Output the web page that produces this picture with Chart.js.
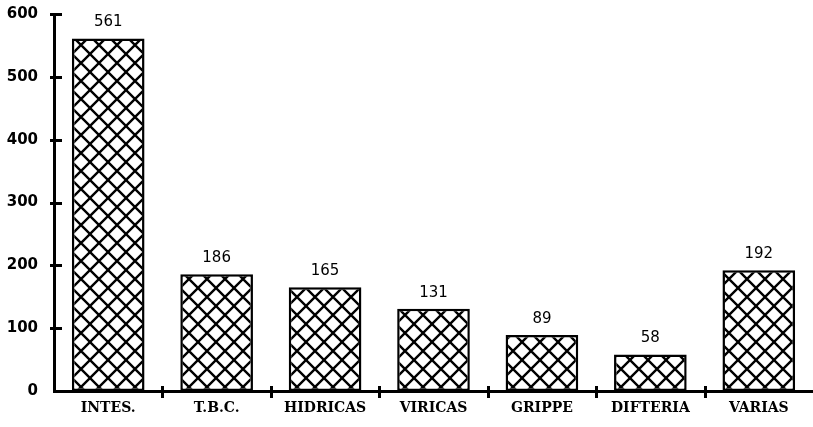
<!DOCTYPE html>
<html>
<head>
<meta charset="utf-8">
<script src="https://cdn.jsdelivr.net/npm/chart.js@4/dist/chart.umd.min.js"></script>
<style>
html,body{margin:0;padding:0;background:#fff;}
canvas{display:block;}
</style>
</head>
<body>
<canvas id="c" width="813" height="427"></canvas>
<script>
const categories = ['INTES.', 'T.B.C.', 'HIDRICAS', 'VIRICAS', 'GRIPPE', 'DIFTERIA', 'VARIAS'];
const values = [561, 186, 165, 131, 89, 58, 192];
const yMin = 0, yMax = 600, yStep = 100;

function makeHatch() {
  const s = 18;
  const p = document.createElement('canvas');
  p.width = s; p.height = s;
  const g = p.getContext('2d');
  g.fillStyle = '#fff';
  g.fillRect(0, 0, s, s);
  g.strokeStyle = '#000';
  g.lineWidth = 2.4;
  g.lineCap = 'square';
  g.beginPath();
  g.moveTo(-2, -2); g.lineTo(s + 2, s + 2);
  g.moveTo(-2, s + 2); g.lineTo(s + 2, -2);
  g.stroke();
  return document.getElementById('c').getContext('2d').createPattern(p, 'repeat');
}

const axisTicks = {
  id: 'axisTicks',
  afterDraw(chart) {
    const ctx = chart.ctx;
    const ys = chart.scales.y, xs = chart.scales.x;
    const ax = chart.chartArea.left, ay = chart.chartArea.bottom;
    ctx.save();
    ctx.fillStyle = '#000';
    ys.ticks.forEach(t => {
      const y = ys.getPixelForValue(t.value);
      if (t.value === 0) return;
      ctx.fillRect(ax - 4, Math.round(y) - 1, 12, 3);
    });
    for (let i = 1; i < categories.length; i++) {
      const x = (xs.getPixelForValue(i - 1) + xs.getPixelForValue(i)) / 2;
      ctx.fillRect(Math.round(x) - 1, ay - 5, 3, 12);
    }
    ctx.restore();
  }
};

const valueLabels = {
  id: 'valueLabels',
  afterDatasetsDraw(chart) {
    const ctx = chart.ctx;
    const meta = chart.getDatasetMeta(0);
    ctx.save();
    ctx.fillStyle = '#000';
    ctx.font = '15px "DejaVu Sans"';
    ctx.textAlign = 'center';
    ctx.textBaseline = 'middle';
    meta.data.forEach((bar, i) => {
      ctx.fillText(String(values[i]), bar.x, bar.y - 16);
    });
    ctx.restore();
  }
};

new Chart(document.getElementById('c'), {
  type: 'bar',
  data: {
    labels: categories,
    datasets: [{
      data: values,
      backgroundColor: makeHatch(),
      borderColor: '#000',
      borderWidth: 2.5,
      borderSkipped: false,
      barPercentage: 0.67,
      categoryPercentage: 1
    }]
  },
  options: {
    responsive: false,
    animation: false,
    devicePixelRatio: 1,
    layout: { padding: { top: 14, right: 0, left: 0, bottom: 0 } },
    plugins: { legend: { display: false }, tooltip: { enabled: false } },
    scales: {
      x: {
        afterFit(s) { s.height = 36; s.paddingLeft = 0; s.paddingRight = 0; },
        grid: { display: false, drawTicks: false },
        border: { display: true, color: '#000', width: 3 },
        ticks: {
          color: '#000',
          padding: 9,
          maxRotation: 0,
          font: { family: '"DejaVu Serif"', size: 14, weight: 'bold' }
        }
      },
      y: {
        min: yMin, max: yMax,
        afterFit(s) { s.width = 54; s.paddingTop = 0; s.paddingBottom = 0; },
        grid: { display: false, drawTicks: false },
        border: { display: true, color: '#000', width: 3 },
        ticks: {
          stepSize: yStep,
          color: '#000',
          padding: 16,
          font: { family: '"DejaVu Sans"', size: 15, weight: 'bold' }
        }
      }
    }
  },
  plugins: [axisTicks, valueLabels]
});
</script>
</body>
</html>
